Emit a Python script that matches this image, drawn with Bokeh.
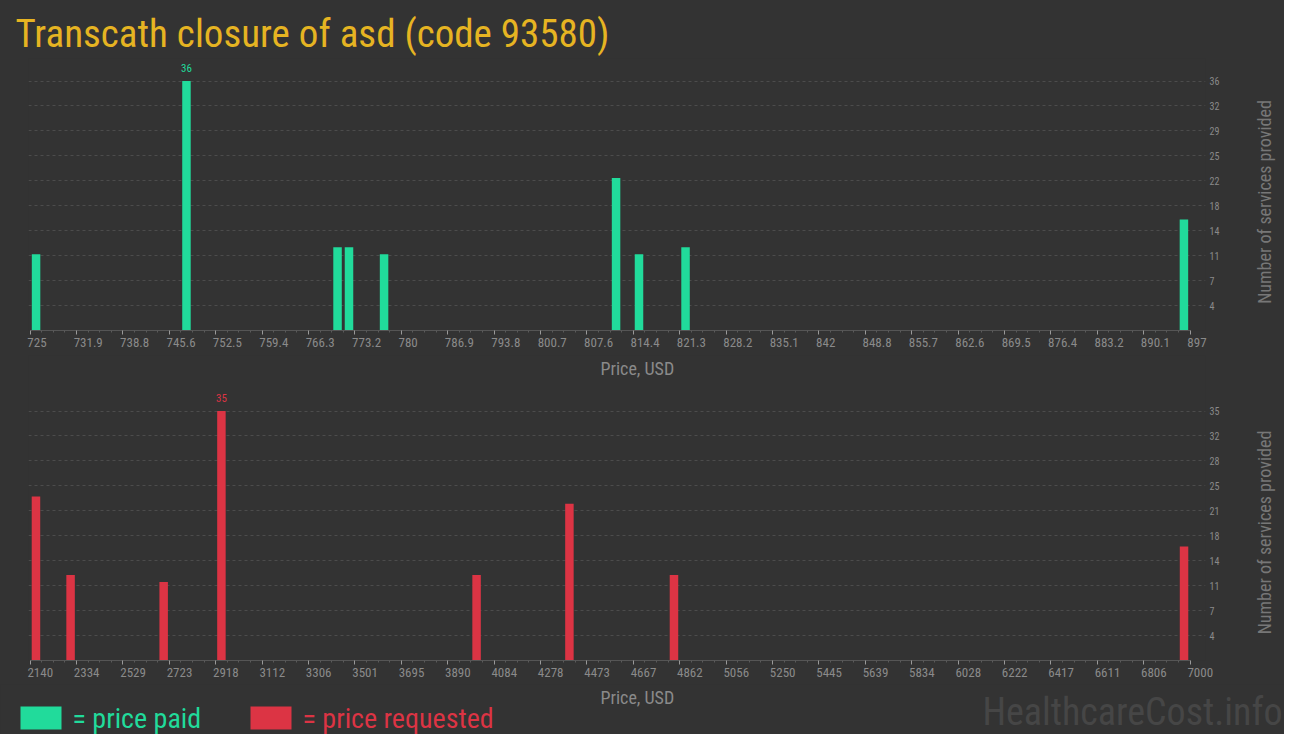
import math
from bokeh.plotting import figure
from bokeh.models import Range1d, LinearAxis, FixedTicker, Label
from bokeh.layouts import column
from bokeh.embed import file_html
from bokeh.resources import INLINE
from bokeh.core.properties import value

# ---------------- data ----------------
TITLE = "Transcath closure of asd (code 93580)"

paid_price = [725.9, 748.2, 770.6, 772.3, 777.5, 811.9, 815.3, 822.2, 896.1]
paid_count = [11, 36, 12, 12, 11, 22, 11, 12, 16]

req_price = [2165, 2310, 2700, 2942, 4011, 4400, 4838, 6975]
req_count = [23, 12, 11, 35, 12, 22, 12, 16]

paid_xlabels = ["725", "731.9", "738.8", "745.6", "752.5", "759.4", "766.3", "773.2",
                "780", "786.9", "793.8", "800.7", "807.6", "814.4", "821.3", "828.2",
                "835.1", "842", "848.8", "855.7", "862.6", "869.5", "876.4", "883.2",
                "890.1", "897"]
req_xlabels = ["2140", "2334", "2529", "2723", "2918", "3112", "3306", "3501", "3695",
               "3890", "4084", "4278", "4473", "4667", "4862", "5056", "5250", "5445",
               "5639", "5834", "6028", "6222", "6417", "6611", "6806", "7000"]
paid_ylabels = ["4", "7", "11", "14", "18", "22", "25", "29", "32", "36"]
req_ylabels = ["4", "7", "11", "14", "18", "21", "25", "28", "32", "35"]

X_TITLE = "Price, USD"
Y_TITLE = "Number of services provided"
LEGEND = ["= price paid", "= price requested"]
WATERMARK = "HealthcareCost.info"

# ---------------- style ----------------
BG = "#333333"
GREEN = "#21DB9B"
RED = "#DC3444"
GOLD = "#E6B422"
TICK_TXT = "#8a8a8a"
FONT = "'Roboto Condensed', 'DejaVu Sans Condensed', Roboto"
MID = 0.35   # distance from alphabetic baseline to text middle, in em

W = 1284
FRAME_LEFT = 28
FRAME_RIGHT = 1205
TICK_FIRST = 29.5
TICK_LAST = 1189.5
BAR_SPAN = 249.5
BAR_PX = 8.5
XLAB_SIZE = 13
XTITLE_LEFT = 600


def label_width(s, size):
    w = 0.0
    for ch in s:
        w += 0.24 if ch == "." else 0.51
    return w * size


def build(prices, counts, xlabels, ylabels, color, height, b_top, frame_h, b_bottom, ytitle_y):
    xmin = float(xlabels[0])
    xmax = float(xlabels[-1])
    n = len(xlabels) - 1
    step = (xmax - xmin) / n
    ppu = (TICK_LAST - TICK_FIRST) / (xmax - xmin)
    x_start = xmin - (TICK_FIRST - FRAME_LEFT) / ppu
    x_end = xmax + (FRAME_RIGHT - TICK_LAST) / ppu
    ymax = max(counts)
    y_end = frame_h / (BAR_SPAN / ymax)

    p = figure(width=W, height=height, output_backend="svg", toolbar_location=None,
               x_range=Range1d(x_start, x_end), y_range=Range1d(0, y_end),
               y_axis_location="right",
               min_border_left=FRAME_LEFT, min_border_right=W - FRAME_RIGHT,
               min_border_top=b_top, min_border_bottom=b_bottom)
    p.background_fill_color = BG
    p.border_fill_color = None
    p.outline_line_color = None

    p.vbar(x=prices, top=counts, width=BAR_PX / ppu, bottom=0,
           fill_color=color, line_color=None)
    i = counts.index(ymax)
    p.text(x=[prices[i]], y=[counts[i]], text=[str(counts[i])], text_color=color,
           text_font=value(FONT), text_font_size="11px", text_align="center",
           text_baseline="middle", y_offset=-(9 + MID * 11))

    majors = [xmin + k * step for k in range(n + 1)]
    minors = [xmin + (k + j / 4) * step for k in range(n) for j in (1, 2, 3)]
    ax = p.xaxis[0]
    ax.ticker = FixedTicker(ticks=majors, minor_ticks=minors)
    ax.bounds = (xmin, xmax)
    ax.major_label_overrides = {t: "" for t in majors}
    ax.major_label_text_font_size = "1px"
    ax.major_label_standoff = 0
    ax.axis_line_color = "#555555"
    ax.major_tick_line_color = "#9a9a9a"
    ax.minor_tick_line_color = "#5a5a5a"
    ax.major_tick_out = 4
    ax.major_tick_in = 0
    ax.minor_tick_out = 2
    ax.minor_tick_in = 0

    shifted = []
    overrides = {}
    for t, lab in zip(majors, xlabels):
        s = t + (label_width(lab, XLAB_SIZE) / 2 - 3) / ppu
        shifted.append(s)
        overrides[s] = lab
    ax2 = LinearAxis(ticker=FixedTicker(ticks=shifted, minor_ticks=[]),
                     major_label_overrides=overrides,
                     axis_line_color=None, major_tick_line_color=None,
                     minor_tick_line_color=None, major_tick_out=0, major_tick_in=0,
                     minor_tick_out=0, minor_tick_in=0, major_label_standoff=3,
                     major_label_text_font=FONT, major_label_text_font_size=f"{XLAB_SIZE}px",
                     major_label_text_color=TICK_TXT)
    p.add_layout(ax2, "below")

    yt = [ymax * k / 10 for k in range(1, 11)]
    ya = p.yaxis[0]
    ya.ticker = FixedTicker(ticks=yt, minor_ticks=[])
    ya.major_label_overrides = {t: lab for t, lab in zip(yt, ylabels)}
    ya.axis_line_color = None
    ya.major_tick_line_color = None
    ya.minor_tick_line_color = None
    ya.major_tick_out = 0
    ya.major_label_standoff = 4
    ya.major_label_text_font = FONT
    ya.major_label_text_font_size = "10px"
    ya.major_label_text_color = TICK_TXT

    # vertical axis title, reading bottom-to-top, in the right side panel
    p.add_layout(Label(text=Y_TITLE, x=31, y=ytitle_y, x_units="screen", y_units="screen",
                       angle=math.pi / 2, text_align="center", text_baseline="top",
                       text_font=FONT, text_font_size="18px", text_color="#777777"),
                 "right")

    p.xgrid.grid_line_color = None
    p.ygrid.grid_line_color = "#4c4c4c"
    p.ygrid.grid_line_dash = "3 3"
    p.ygrid.grid_line_width = 1
    return p


# upper chart: page rows 0..354, frame 58..330
top = build(paid_price, paid_count, paid_xlabels, paid_ylabels, GREEN,
            354, 58, 272, 24, 128.5)
top.title.text = TITLE
top.title.text_font = FONT
top.title.text_font_size = "39px"
top.title.text_font_style = "normal"
top.title.text_color = GOLD
top.title.offset = -13
top.title.standoff = 4

# lower chart: page rows 354..684, frame 355..660 (its top band holds the upper x title)
BOTTOM_FRAME_TOP = 355
bottom = build(req_price, req_count, req_xlabels, req_ylabels, RED,
               330, 1, 660 - BOTTOM_FRAME_TOP, 24, 128)
bottom.text(x=[bottom.x_range.start], y=[bottom.y_range.end], text=[X_TITLE],
            x_offset=XTITLE_LEFT - FRAME_LEFT, y_offset=374 - MID * 18 - BOTTOM_FRAME_TOP,
            text_color=TICK_TXT, text_font=value(FONT), text_font_size="18px",
            text_baseline="middle")

# strip below: x-axis title of the lower chart, legend, watermark
LH = 50
TOP_Y = 684  # page row where the strip starts
leg = figure(width=W, height=LH, output_backend="svg", toolbar_location=None,
             x_range=Range1d(0, W), y_range=Range1d(LH, 0), min_border=0,
             x_axis_type=None, y_axis_type=None)
if "frame_align" in leg.properties():
    leg.frame_align = False
leg.background_fill_color = BG
leg.border_fill_color = None
leg.outline_line_color = None
leg.text(x=[XTITLE_LEFT], y=[703 - TOP_Y - MID * 18], text=[X_TITLE], text_color=TICK_TXT,
         text_font=value(FONT), text_font_size="18px", text_baseline="middle")
leg.quad(left=[20, 250], right=[61, 291], top=[706 - TOP_Y] * 2, bottom=[729 - TOP_Y] * 2,
         fill_color=[GREEN, RED], line_color=None)
leg.text(x=[72, 302], y=[728 - TOP_Y - MID * 28] * 2, text=LEGEND, text_color=[GREEN, RED],
         text_font=value(FONT), text_font_size="28px", text_baseline="middle")
leg.text(x=[1282], y=[725 - TOP_Y - MID * 38], text=[WATERMARK], text_color="#464646",
         text_font=value(FONT), text_font_size="38px", text_align="right",
         text_baseline="middle")

layout = column(top, bottom, leg, spacing=0, styles={"background-color": BG})

open("out.html", "w").write(file_html(layout, INLINE))
